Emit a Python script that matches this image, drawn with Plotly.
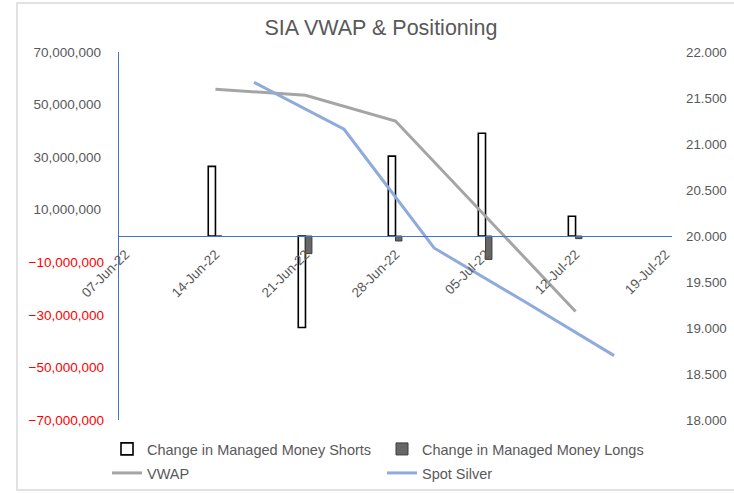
import plotly.graph_objects as go

# ---- data ----
bar_dates = ["2022-06-14", "2022-06-21", "2022-06-28", "2022-07-05", "2022-07-12"]
mm_shorts = [26_500_000, -34_800_000, 30_400_000, 39_100_000, 7_500_000]
mm_longs = [0, -6_700_000, -1_900_000, -8_900_000, -1_000_000]

vwap_dates = ["2022-06-14", "2022-06-21", "2022-06-28", "2022-07-05", "2022-07-12"]
vwap = [21.595, 21.53, 21.25, 20.21, 19.18]

spot_dates = ["2022-06-17", "2022-06-24", "2022-07-01", "2022-07-08", "2022-07-15"]
spot_silver = [21.67, 21.16, 19.87, 19.29, 18.70]

x_tick_dates = ["2022-06-07", "2022-06-14", "2022-06-21", "2022-06-28",
                "2022-07-05", "2022-07-12", "2022-07-19"]
left_pos_ticks = [10_000_000, 30_000_000, 50_000_000, 70_000_000]
left_neg_ticks = [-10_000_000, -30_000_000, -50_000_000, -70_000_000]
right_ticks = [18.0, 18.5, 19.0, 19.5, 20.0, 20.5, 21.0, 21.5, 22.0]

DAY = 86_400_000
FONT = "Liberation Sans, Arial, sans-serif"
GREY_TXT = "#595959"
AXIS_BLUE = "#4472C4"
TICK_SIZE = 13.5

FIG_W, FIG_H = 734, 493
ML, MR, MT, MB = 119, 62, 52, 73
PLOT_W = FIG_W - ML - MR
PLOT_H = FIG_H - MT - MB


def px_x(px):
    return (px - ML) / PLOT_W


def px_y(py):
    return (FIG_H - MB - py) / PLOT_H


fig = go.Figure()
fig.add_trace(go.Bar(
    x=bar_dates, y=mm_shorts, name="Change in Managed Money Shorts",
    width=[0.56 * DAY] * len(bar_dates), offset=-0.56 * DAY,
    marker=dict(color="white", line=dict(color="black", width=1.6)),
    yaxis="y", legend="legend"))
fig.add_trace(go.Bar(
    x=bar_dates, y=mm_longs, name="Change in Managed Money Longs",
    width=[0.5 * DAY] * len(bar_dates), offset=0,
    marker=dict(color="#676767", line=dict(color="#3c3c3c", width=1)),
    yaxis="y", legend="legend"))
fig.add_trace(go.Scatter(
    x=vwap_dates, y=vwap, name="VWAP", mode="lines",
    line=dict(color="#A5A5A5", width=3), yaxis="y2", legend="legend2"))
fig.add_trace(go.Scatter(
    x=spot_dates, y=spot_silver, name="Spot Silver", mode="lines",
    line=dict(color="#8FAADC", width=3), yaxis="y2", legend="legend2"))
# invisible trace so the red negative-tick axis is drawn
fig.add_trace(go.Scatter(x=[bar_dates[0]], y=[0], yaxis="y3", mode="markers",
                         marker=dict(opacity=0), showlegend=False, hoverinfo="skip"))

legend_common = dict(
    orientation="h", x=px_x(107), xanchor="left", yanchor="middle",
    entrywidth=230, entrywidthmode="pixels", itemwidth=30,
    font=dict(family=FONT, size=14.5, color=GREY_TXT),
    bgcolor="rgba(0,0,0,0)", traceorder="normal",
)

x0b, x1b, y0b, y1b = px_x(17), px_x(800), px_y(490), px_y(3)
border_path = f"M {x1b},{y1b} L {x0b},{y1b} L {x0b},{y0b} L {x1b},{y0b}"

fig.update_layout(
    width=FIG_W, height=FIG_H,
    margin=dict(l=ML, r=MR, t=MT, b=MB, pad=0, autoexpand=False),
    paper_bgcolor="white", plot_bgcolor="white",
    font=dict(family=FONT, size=13, color=GREY_TXT),
    barmode="overlay",
    showlegend=True,
    title=dict(text="SIA VWAP & Positioning", x=381 / FIG_W, xref="container",
               xanchor="center", y=1 - 27 / FIG_H, yref="container", yanchor="middle",
               font=dict(family=FONT, size=21.5, color=GREY_TXT)),
    xaxis=dict(
        type="date",
        range=["2022-06-06 12:00", "2022-07-19 12:00"],
        tickvals=x_tick_dates, tickformat="%d-%b-%y", tickangle=-45,
        anchor="free", position=0.5,
        showline=True, linecolor=AXIS_BLUE, linewidth=1.3,
        showgrid=False, zeroline=False, ticks="",
        ticklabelstandoff=4,
        tickfont=dict(family=FONT, size=TICK_SIZE, color=GREY_TXT),
        automargin=False,
    ),
    yaxis=dict(
        range=[-70_000_000, 70_000_000],
        tickvals=left_pos_ticks, tickformat=",d",
        showline=True, linecolor=AXIS_BLUE, linewidth=1.3,
        showgrid=False, zeroline=False, ticks="",
        ticklabelstandoff=14,
        tickfont=dict(family=FONT, size=TICK_SIZE, color=GREY_TXT),
        automargin=False,
    ),
    yaxis3=dict(
        range=[-70_000_000, 70_000_000], overlaying="y", side="left",
        tickvals=left_neg_ticks, tickformat=",d",
        showline=False, showgrid=False, zeroline=False, ticks="",
        ticklabelstandoff=14,
        tickfont=dict(family=FONT, size=TICK_SIZE, color="#FF0000"),
        automargin=False,
    ),
    yaxis2=dict(
        range=[18, 22], overlaying="y", side="right",
        tickvals=right_ticks, tickformat=".3f",
        showline=False, showgrid=False, zeroline=False, ticks="",
        ticklabelstandoff=13,
        tickfont=dict(family=FONT, size=13.3, color=GREY_TXT),
        automargin=False,
    ),
    legend=dict(legend_common, y=px_y(449)),
    legend2=dict(legend_common, y=px_y(473)),
    shapes=[dict(type="path", xref="paper", yref="paper", path=border_path,
                 line=dict(color="#D9D9D9", width=1.5), layer="below")],
)

fig.write_html("out.html",
               config={"displayModeBar": False},
               post_script="document.body.style.margin='0';document.body.style.overflow='hidden';")
